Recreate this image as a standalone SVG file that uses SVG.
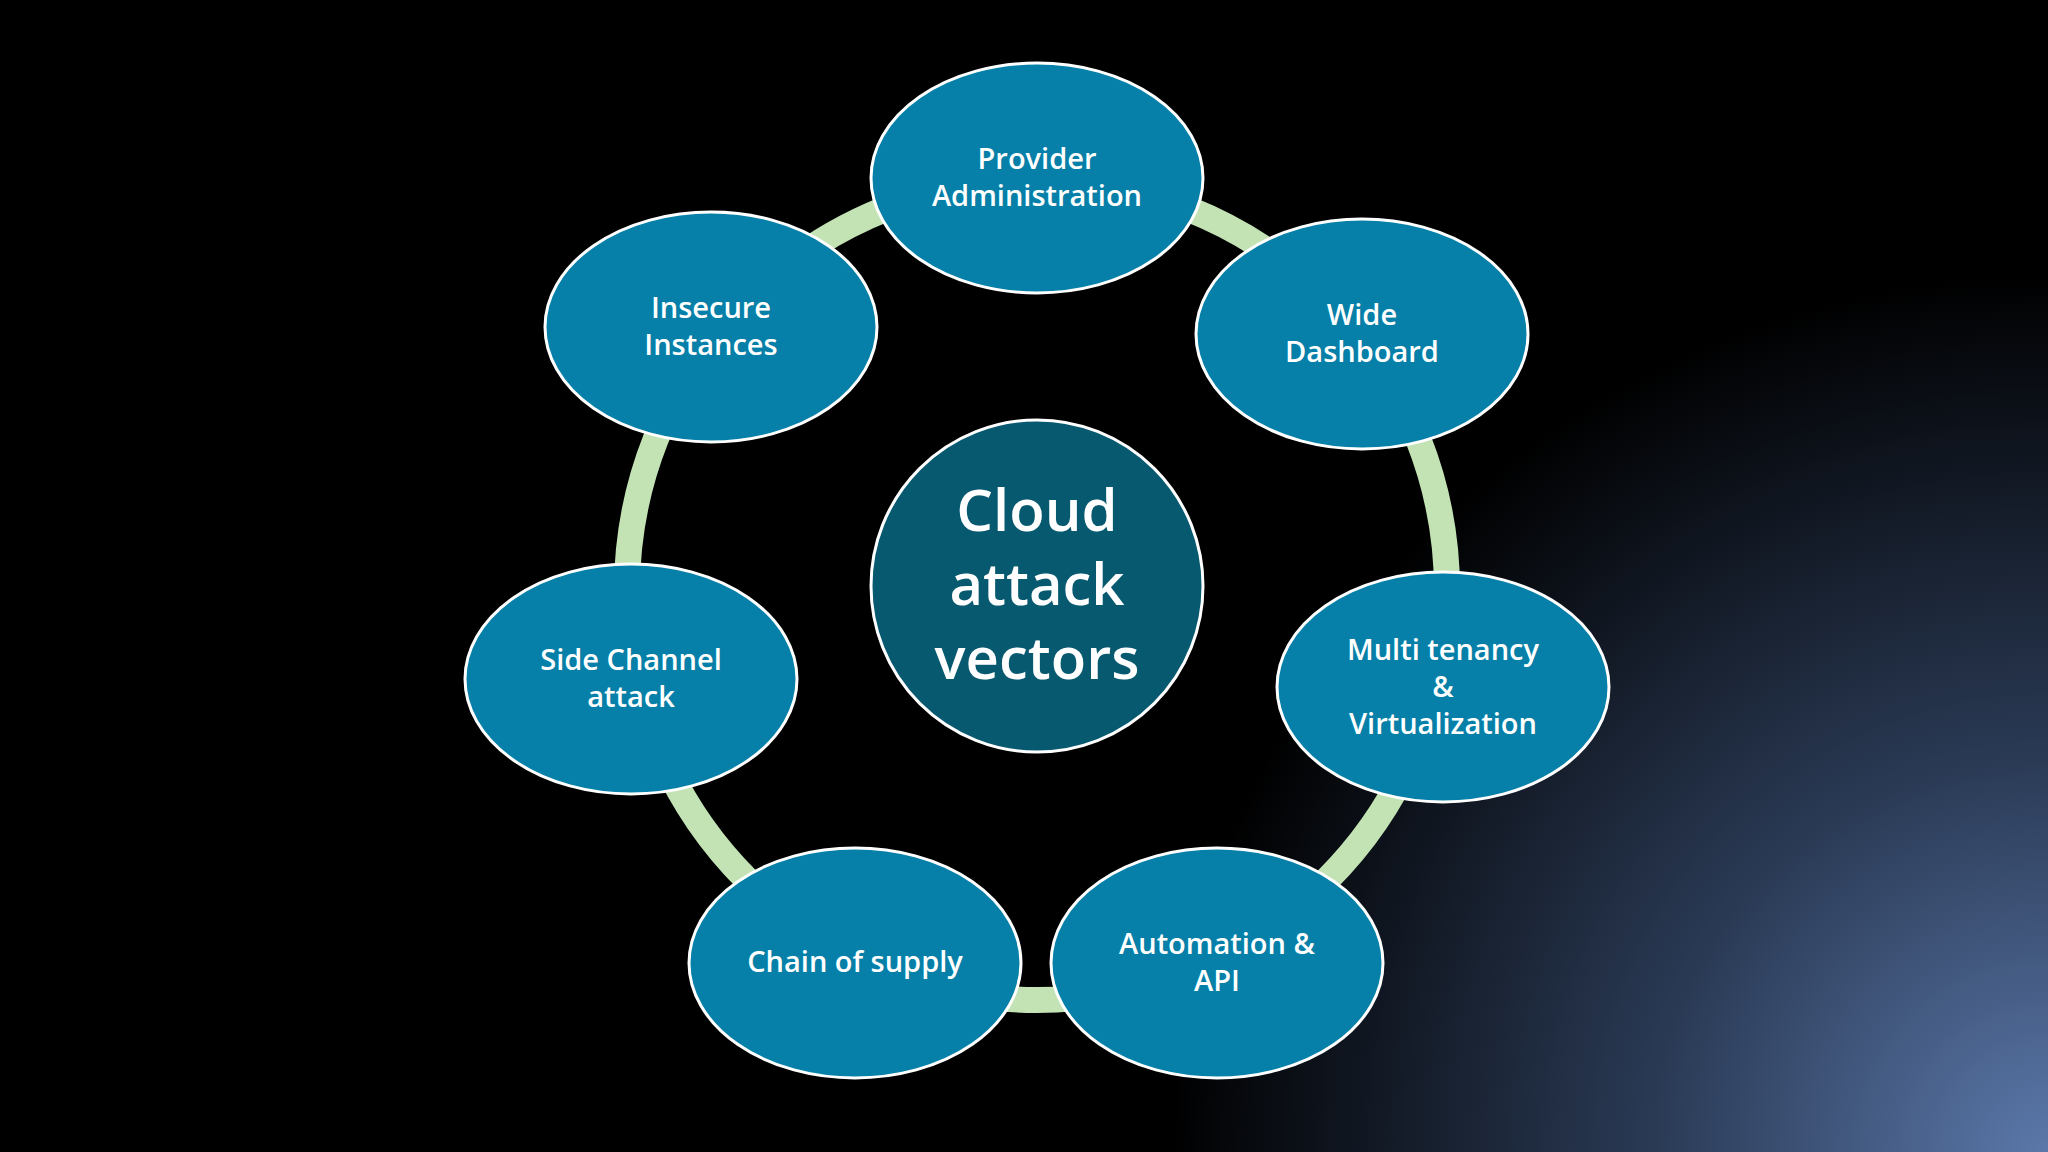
<svg xmlns="http://www.w3.org/2000/svg" width="2048" height="1152" viewBox="0 0 2048 1152">
<defs>
<radialGradient id="bg" cx="2048" cy="1152" r="880" gradientUnits="userSpaceOnUse">
<stop offset="0" stop-color="#5b78aa"/>
<stop offset="0.45" stop-color="#2a3a55"/>
<stop offset="1" stop-color="#000000"/>
</radialGradient>
<style>
.n{fill:#0680a8;stroke:#ffffff;stroke-width:3}
.c{fill:#07596f;stroke:#ffffff;stroke-width:3}
.t{fill:#ffffff;font-family:"Open Sans","Noto Sans",sans-serif;font-weight:600;font-size:29px;text-anchor:middle}
.tc{fill:#ffffff;font-family:"Open Sans","Noto Sans",sans-serif;font-weight:600;font-size:58px;text-anchor:middle}
</style>
</defs>
<rect width="2048" height="1152" fill="#000"/>
<rect width="2048" height="1152" fill="url(#bg)"/>
<g id="connectors">
<circle cx="1037" cy="590" r="410" fill="none" stroke="#c3e3b5" stroke-width="26"/>
</g>
<g id="center"><circle class="c" cx="1037" cy="586" r="166"/>
<text class="tc" x="1037" y="531">Cloud</text><text class="tc" x="1037" y="605">attack</text><text class="tc" x="1037" y="679">vectors</text></g>
<g id="provider"><ellipse class="n" cx="1037" cy="178" rx="166" ry="115"/>
<text class="t" x="1037" y="169">Provider</text><text class="t" x="1037" y="206">Administration</text></g>
<g id="wide"><ellipse class="n" cx="1362" cy="334" rx="166" ry="115"/>
<text class="t" x="1362" y="325">Wide</text><text class="t" x="1362" y="362">Dashboard</text></g>
<g id="multi"><ellipse class="n" cx="1443" cy="687" rx="166" ry="115"/>
<text class="t" x="1443" y="660">Multi tenancy</text><text class="t" x="1443" y="697">&amp;</text><text class="t" x="1443" y="734">Virtualization</text></g>
<g id="automation"><ellipse class="n" cx="1217" cy="963" rx="166" ry="115"/>
<text class="t" x="1217" y="954">Automation &amp;</text><text class="t" x="1217" y="991">API</text></g>
<g id="chain"><ellipse class="n" cx="855" cy="963" rx="166" ry="115"/>
<text class="t" x="855" y="972">Chain of supply</text></g>
<g id="side"><ellipse class="n" cx="631" cy="679" rx="166" ry="115"/>
<text class="t" x="631" y="670">Side Channel</text><text class="t" x="631" y="707">attack</text></g>
<g id="insecure"><ellipse class="n" cx="711" cy="327" rx="166" ry="115"/>
<text class="t" x="711" y="318">Insecure</text><text class="t" x="711" y="355">Instances</text></g>
</svg>
